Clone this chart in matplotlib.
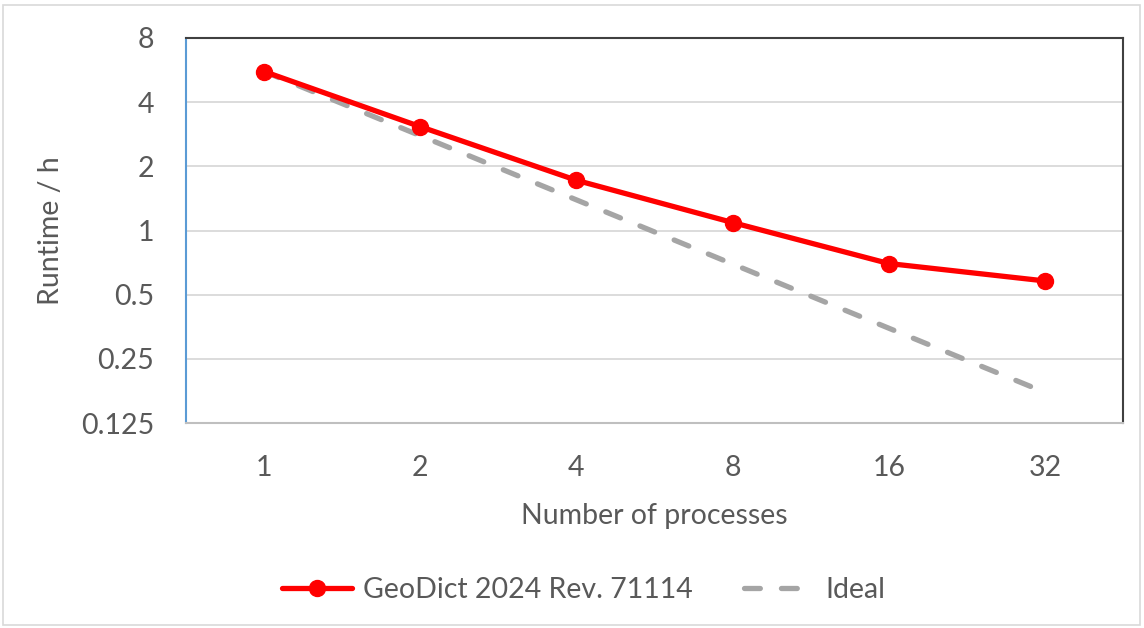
import matplotlib.pyplot as plt
import numpy as np
from matplotlib.patches import Rectangle

# runtime of one simulation vs. number of MPI processes
processes = [1, 2, 4, 8, 16, 32]
runtime_h = [5.57, 3.07, 1.72, 1.09, 0.70, 0.58]
ideal_h = [5.57, 2.785, 1.3925, 0.69625, 0.348125, 0.1740625]
y_ticks = [0.125, 0.25, 0.5, 1, 2, 4, 8]
y_tick_labels = ["0.125", "0.25", "0.5", "1", "2", "4", "8"]

plt.rcParams['font.family'] = ['Lato', 'DejaVu Sans']
text_col = '#595959'
fs = 20.5

fig = plt.figure(figsize=(11.44, 6.28), dpi=100)
ax = fig.add_axes([186 / 1144, 1 - 423 / 628, (1123 - 186) / 1144, (423 - 38) / 628])

x = np.arange(len(processes))
ax.plot(x, runtime_h, color='#ff0000', lw=3.8, marker='o', ms=11.5,
        solid_capstyle='round', label='GeoDict 2024 Rev. 71114', zorder=3)
ax.plot(x, ideal_h, color='#a5a5a5', lw=3.8, dashes=(3, 4),
        dash_capstyle='round', label='Ideal', zorder=2)

ax.set_yscale('log', base=2)
ax.set_ylim(0.125, 8)
ax.set_yticks(y_ticks)
ax.set_yticklabels(y_tick_labels)
ax.minorticks_off()
ax.set_xlim(-0.5, len(processes) - 0.5)
ax.set_xticks(x)
ax.set_xticklabels([str(p) for p in processes])

ax.grid(axis='y', color='#d9d9d9', lw=1.3)
ax.set_axisbelow(True)
ax.tick_params(length=0, labelsize=fs, colors=text_col)
ax.tick_params(axis='y', pad=23)
ax.tick_params(axis='x', pad=23)

ax.spines['left'].set_color('#5b9bd5')
ax.spines['left'].set_linewidth(1.5)
ax.spines['top'].set_color('#404040')
ax.spines['top'].set_linewidth(1.5)
ax.spines['right'].set_color('#404040')
ax.spines['right'].set_linewidth(1.5)
ax.spines['bottom'].set_color('#bfbfbf')
ax.spines['bottom'].set_linewidth(1.5)

ax.set_xlabel('Number of processes', fontsize=fs, color=text_col, labelpad=16)
ax.set_ylabel('Runtime / h', fontsize=fs, color=text_col, labelpad=12)

fig.legend(loc='center', bbox_to_anchor=(0.51, 1 - 590 / 628), ncol=2, frameon=False,
           fontsize=fs, labelcolor=text_col, handlelength=2.45, columnspacing=1.8,
           handletextpad=0.4)

# thin chart-area frame
fig.patches.append(Rectangle((3 / 1144, 3 / 628), 1137 / 1144, 620 / 628,
                             transform=fig.transFigure, fill=False,
                             edgecolor='#d9d9d9', lw=1.2))

fig.savefig('out.png', dpi=100)
